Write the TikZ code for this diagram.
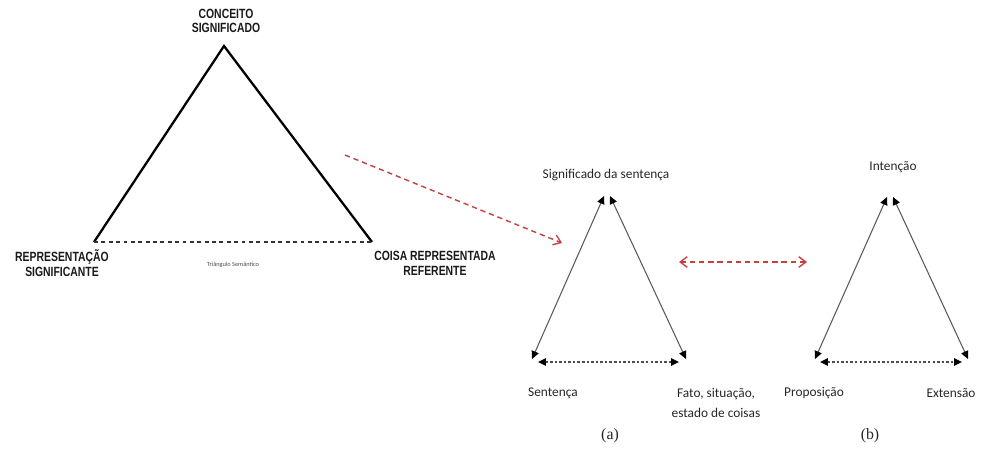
\documentclass[tikz,border=0pt]{standalone}
\usepackage{fontspec}
\setmainfont{Liberation Serif}
\newfontfamily\capsfont[FakeStretch=0.78]{Liberation Sans}
\newfontfamily\calfont{Carlito}
\usetikzlibrary{arrows.meta}
\tikzset{headtip/.tip={Triangle[length=4.5pt,width=4.2pt,color=black]}}
\begin{document}
\begin{tikzpicture}[x=0.02cm,y=-0.02cm,
  caplabel/.style={font=\capsfont\bfseries\fontsize{7.6}{8.4}\selectfont, align=center, text=black!90, inner sep=0pt},
  smalllabel/.style={font=\calfont\fontsize{7.6}{11}\selectfont, align=center, text=black!85, inner sep=0pt},
  tinylabel/.style={font=\calfont\fontsize{3.6}{4}\selectfont, text=black!70, inner sep=0pt},
  partlabel/.style={font=\fontsize{9}{10}\selectfont, text=black!85, inner sep=0pt},
  bigside/.style={line width=1.3pt, black},
  bigbase/.style={line width=0.7pt, black!80, dash pattern=on 2.2pt off 2pt},
  side/.style={line width=0.6pt, black!65, {headtip}-{headtip}},
  base/.style={line width=0.9pt, black!70, dash pattern=on 1.4pt off 1.2pt, {headtip}-{headtip}},
  redarrow/.style={line width=0.8pt, red!70!black!75, dash pattern=on 3pt off 2.2pt}
]
\useasboundingbox (0,0) rectangle (1003,460);

% semantic triangle
\coordinate (A) at (224,46);
\coordinate (L) at (94,242);
\coordinate (R) at (372,242);
\draw[bigside, line join=miter] (L) -- (A) -- (R);
\draw[bigbase] (L) -- (R);
\node[caplabel] (conc) at (226,21) {CONCEITO\\SIGNIFICADO};
\node[caplabel] (rep) at (62,263) {REPRESENTAÇÃO\\SIGNIFICANTE};
\node[caplabel] (coisa) at (435,263) {COISA REPRESENTADA\\REFERENTE};
\node[tinylabel] (tri) at (233,265) {Triângulo Semântico};

% link to the sentence triangle
\coordinate (r1) at (345,155);
\coordinate (r2) at (562,243);
\draw[redarrow, -{Straight Barb[length=4pt,width=6pt]}] (r1) -- (r2);

% (a) sentence triangle
\coordinate (aA1) at (604,196);
\coordinate (aA2) at (610,196);
\coordinate (aL) at (532,359);
\coordinate (aR) at (686,359);
\draw[side] (aL) -- (aA1);
\draw[side] (aA2) -- (aR);
\coordinate (aB1) at (538,362);
\coordinate (aB2) at (679,362);
\draw[base] (aB1) -- (aB2);
\node[smalllabel] (sig) at (606,175) {Significado da sentença};
\node[smalllabel] (sent) at (553,393) {Sentença};
\node[smalllabel] (fato) at (716,403) {Fato, situação,\\estado de coisas};
\node[partlabel] (pa) at (610,436) {(a)};

% correspondence between (a) and (b)
\coordinate (d1) at (679,262);
\coordinate (d2) at (807,262);
\draw[redarrow, {Straight Barb[length=4pt,width=6pt]}-{Straight Barb[length=4pt,width=6pt]}] (d1) -- (d2);

% (b) intension triangle
\coordinate (bA1) at (887,197);
\coordinate (bA2) at (893,197);
\coordinate (bL) at (815,359);
\coordinate (bR) at (968,359);
\draw[side] (bL) -- (bA1);
\draw[side] (bA2) -- (bR);
\coordinate (bB1) at (820,362);
\coordinate (bB2) at (962,362);
\draw[base] (bB1) -- (bB2);
\node[smalllabel] (int) at (893,167) {Intenção};
\node[smalllabel] (prop) at (814,393) {Proposição};
\node[smalllabel] (ext) at (951,393) {Extensão};
\node[partlabel] (pb) at (870,436) {(b)};
\end{tikzpicture}
\end{document}
